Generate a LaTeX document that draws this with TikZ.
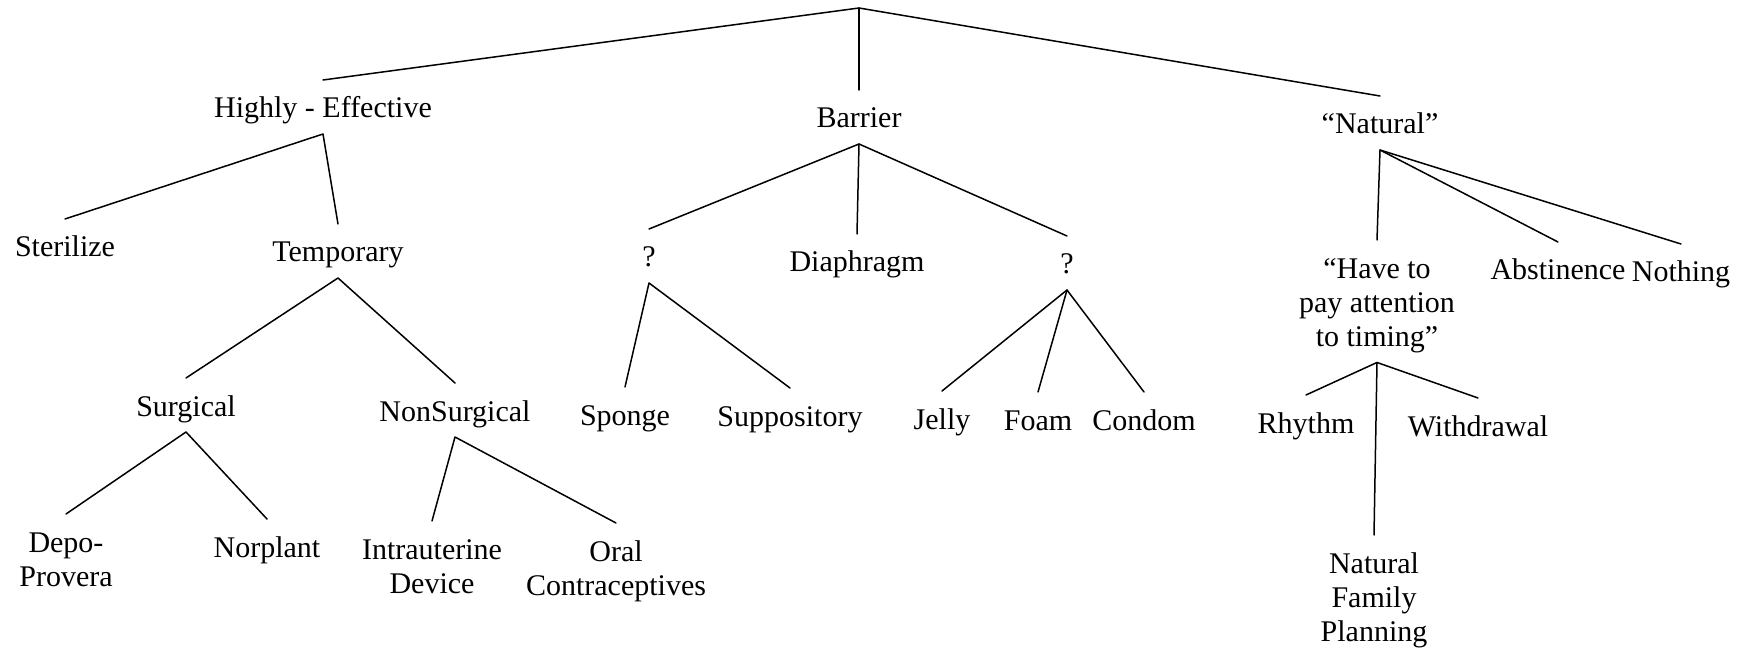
\documentclass[tikz,border=0pt]{standalone}
\usepackage{fontspec}
\setmainfont{Liberation Serif}
\tikzset{
  lbl/.style={font=\fontsize{30}{34}\selectfont, inner sep=0pt, outer xsep=0pt, outer ysep=16pt, text height=22pt, text depth=0pt, anchor=base},
  mlbl/.style={font=\fontsize{30}{34}\selectfont, inner sep=0pt, outer xsep=0pt, outer ysep=16pt, align=center, anchor=north},
  conn/.style={line width=1.5pt, line cap=round, line join=round}
}
\newcommand{\fl}{\rule{0pt}{22pt}}
\begin{document}
\begin{tikzpicture}[x=1pt,y=-1pt]
\fill[white] (0,0) rectangle (1746,652);
\useasboundingbox (0,0) rectangle (1746,652);

\coordinate (root) at (859,8);

% level 1
\node[lbl] (he) at (323,118) {Highly - Effective};
\node[lbl] (barrier) at (859,128) {Barrier};
\node[lbl] (natural) at (1380,134) {“Natural”};

% Highly-Effective subtree
\node[lbl] (steril) at (65,257) {Sterilize};
\node[lbl] (temp) at (338,262) {Temporary};
\node[lbl] (surg) at (186,416) {Surgical};
\node[lbl] (nonsurg) at (455,421) {NonSurgical};
\node[mlbl] (depo) at (66,514) {\fl Depo-\\Provera};
\node[lbl] (norplant) at (267,557) {Norplant};
\node[mlbl] (iud) at (432,521) {\fl Intrauterine\\Device};
\node[mlbl] (oral) at (616,523) {\fl Oral\\Contraceptives};

% Barrier subtree
\node[lbl] (qa) at (649,267) {?};
\node[lbl] (diaph) at (857,272) {Diaphragm};
\node[lbl] (qb) at (1067,274) {?};
\node[lbl] (sponge) at (625,425) {Sponge};
\node[lbl] (supp) at (790,426) {Suppository};
\node[lbl] (jelly) at (942,429) {Jelly};
\node[lbl] (foam) at (1038,430) {Foam};
\node[lbl] (condom) at (1144,430) {Condom};

% Natural subtree
\node[mlbl] (timing) at (1377,240) {\fl “Have to\\pay attention\\to timing”};
\node[lbl] (abst) at (1558,280) {Abstinence};
\node[lbl] (nothing) at (1681,282) {Nothing};
\node[lbl] (rhythm) at (1306,433) {Rhythm};
\node[lbl] (withdr) at (1478,436) {Withdrawal};
\node[mlbl] (nfp) at (1374,535) {\fl Natural\\Family\\Planning};

% connectors
\draw[conn] (he.north) -- (root) -- (natural.north);
\draw[conn] (root) -- (barrier.north);

\draw[conn] (steril.north) -- (he.south) -- (temp.north);
\draw[conn] (surg.north) -- (temp.south) -- (nonsurg.north);
\draw[conn] (depo.north) -- (surg.south) -- (norplant.north);
\draw[conn] (iud.north) -- (nonsurg.south) -- (oral.north);

\draw[conn] (qa.north) -- (barrier.south) -- (qb.north);
\draw[conn] (barrier.south) -- (diaph.north);
\draw[conn] (sponge.north) -- (qa.south) -- (supp.north);
\draw[conn] (jelly.north) -- (qb.south) -- (condom.north);
\draw[conn] (qb.south) -- (foam.north);

\draw[conn] (timing.north) -- (natural.south) -- (abst.north);
\draw[conn] (natural.south) -- (nothing.north);
\draw[conn] (rhythm.north) -- ([yshift=6pt]timing.south) -- (withdr.north);
\draw[conn] ([yshift=6pt]timing.south) -- (nfp.north);
\end{tikzpicture}
\end{document}
